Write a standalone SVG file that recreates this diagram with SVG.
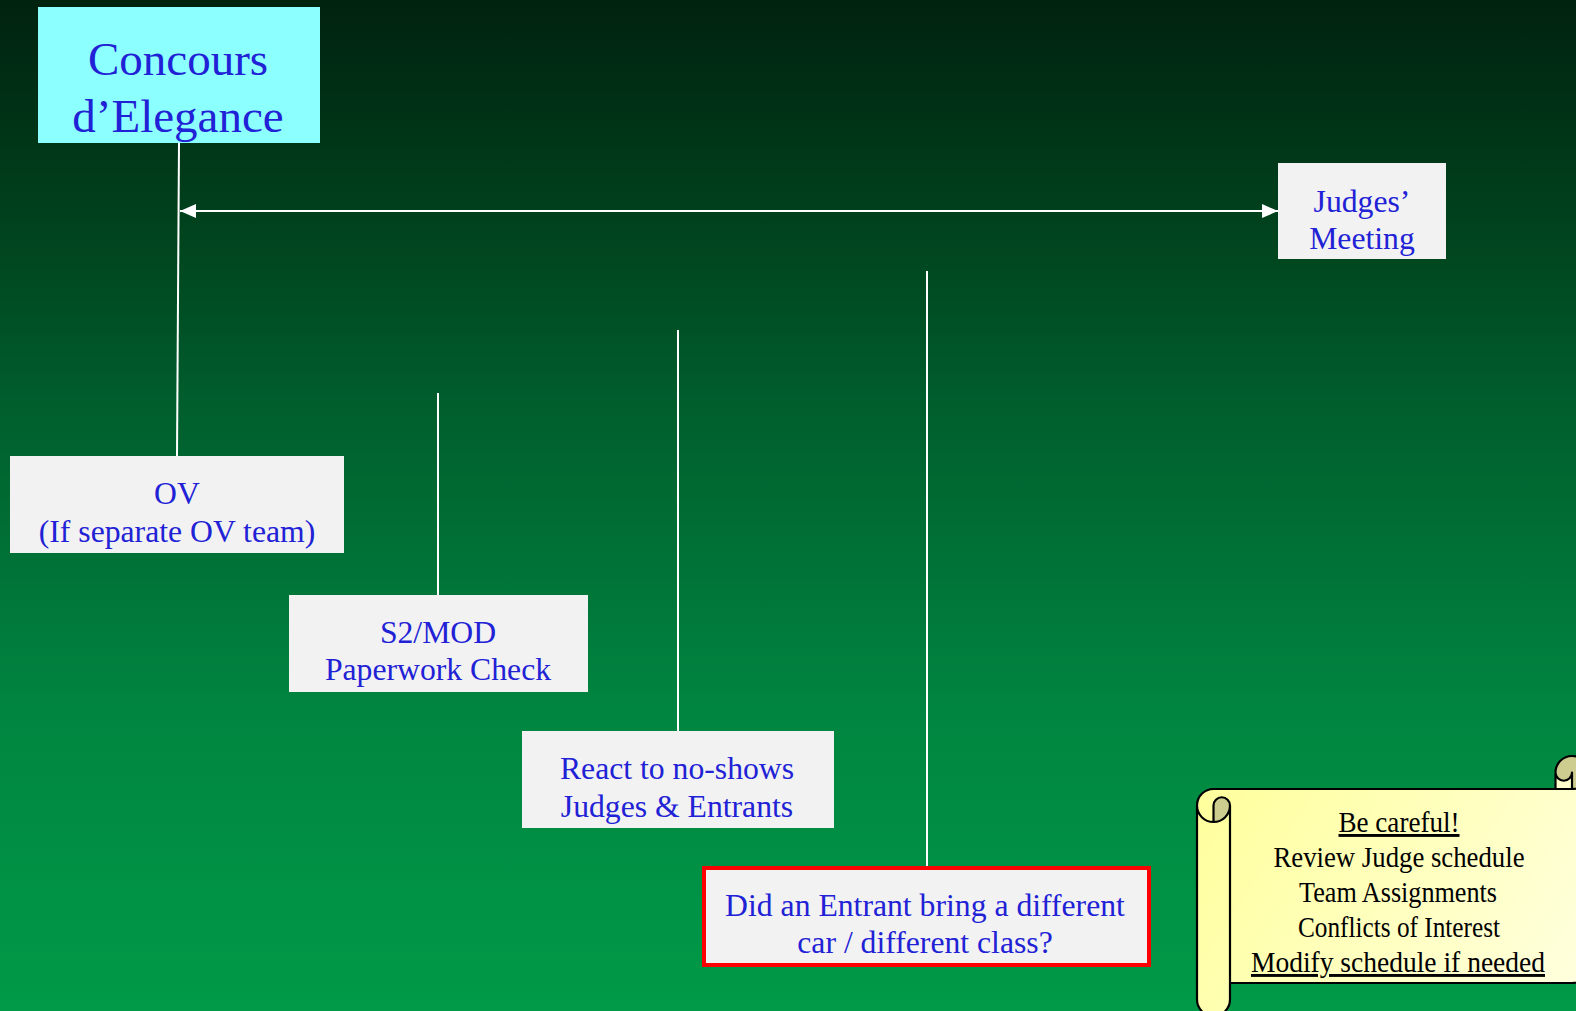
<svg xmlns="http://www.w3.org/2000/svg" width="1576" height="1011" viewBox="0 0 1576 1011">
  <defs>
    <linearGradient id="bg" x1="0" y1="0" x2="0" y2="1">
      <stop offset="0" stop-color="#00220f"/>
      <stop offset="0.25" stop-color="#00461f"/>
      <stop offset="0.4" stop-color="#005e2d"/>
      <stop offset="0.7" stop-color="#008540"/>
      <stop offset="1" stop-color="#009a48"/>
    </linearGradient>
    <linearGradient id="paper" gradientUnits="userSpaceOnUse" x1="1197" y1="756" x2="1588" y2="1016">
      <stop offset="0" stop-color="#ffff99"/>
      <stop offset="1" stop-color="#ffffe2"/>
    </linearGradient>
    <marker id="arr" viewBox="0 0 16 14" refX="16" refY="7" markerWidth="16" markerHeight="14" markerUnits="userSpaceOnUse" orient="auto-start-reverse">
      <path d="M0,0 L16,7 L0,14 Z" fill="#ffffff"/>
    </marker>
    <style>
      .box { fill: #f2f2f2; }
      .t { font-family: "Liberation Serif", "Times New Roman", serif; fill: #2121d6; text-anchor: middle; }
      .t31 { font-size: 31.7px; }
      .s { font-family: "Liberation Serif", "Times New Roman", serif; fill: #000000; text-anchor: middle; font-size: 29px; }
      .u { text-decoration: underline; }
      .line { stroke: #ffffff; stroke-width: 2; fill: none; }
    </style>
  </defs>

  <rect x="0" y="0" width="1576" height="1011" fill="url(#bg)"/>

  <g id="connectors">
    <line class="line" x1="179" y1="143" x2="177" y2="456"/>
    <line class="line" x1="180" y1="211" x2="1278" y2="211" marker-start="url(#arr)" marker-end="url(#arr)"/>
    <line class="line" x1="438" y1="393" x2="438" y2="595"/>
    <line class="line" x1="678" y1="330" x2="678" y2="731"/>
    <line class="line" x1="927" y1="271" x2="927" y2="866"/>
  </g>

  <g id="concours">
    <rect x="38" y="7" width="282" height="136" fill="#8cffff"/>
    <text class="t" x="178" y="75" font-size="47">Concours</text>
    <text class="t" x="178" y="132" font-size="47">d’Elegance</text>
  </g>

  <g id="judges-meeting">
    <rect class="box" x="1278" y="163" width="168" height="96"/>
    <text class="t t31" x="1362" y="212">Judges’</text>
    <text class="t t31" x="1362" y="249">Meeting</text>
  </g>

  <g id="ov">
    <rect class="box" x="10" y="456" width="334" height="97"/>
    <text class="t t31" x="177" y="504">OV</text>
    <text class="t t31" x="177" y="542">(If separate OV team)</text>
  </g>

  <g id="s2mod">
    <rect class="box" x="289" y="595" width="299" height="97"/>
    <text class="t t31" x="438" y="643">S2/MOD</text>
    <text class="t t31" x="438" y="680">Paperwork Check</text>
  </g>

  <g id="react">
    <rect class="box" x="522" y="731" width="312" height="97"/>
    <text class="t t31" x="677" y="779">React to no-shows</text>
    <text class="t t31" x="677" y="817">Judges &amp; Entrants</text>
  </g>

  <g id="entrant-question">
    <rect class="box" x="704" y="868" width="445" height="97" stroke="#ff0000" stroke-width="4"/>
    <text class="t t31" x="925" y="916">Did an Entrant bring a different</text>
    <text class="t t31" x="925" y="953">car / different class?</text>
  </g>

  <g id="scroll">
    <path fill="url(#paper)" d="M1588.5,772.5 A16.5,16.5 0 0 1 1572,789 L1572,772.5 A8.25,8.25 0 0 1 1555.5,772.5 L1555.5,789 L1213.5,789 A16.5,16.5 0 0 0 1197,805.5 L1197,999.5 A16.5,16.5 0 0 0 1230,999.5 L1230,983 L1572,983 A16.5,16.5 0 0 0 1588.5,966.5 Z"/>
    <path fill="#cdcd8f" d="M1213.5,822 A16.5,16.5 0 0 0 1230,805.5 A8.25,8.25 0 0 0 1213.5,805.5 Z M1572,789 A16.5,16.5 0 1 0 1555.5,772.5 A8.25,8.25 0 0 0 1572,772.5 Z"/>
    <path fill="none" stroke="#000000" stroke-width="2.2" stroke-linejoin="round" d="M1197,805.5 A16.5,16.5 0 0 1 1213.5,789 L1555.5,789 L1555.5,772.5 A16.5,16.5 0 0 1 1588.5,772.5 L1588.5,966.5 A16.5,16.5 0 0 1 1572,983 L1230,983 L1230,999.5 A16.5,16.5 0 0 1 1197,999.5 Z M1555.5,789 L1572,789 A16.5,16.5 0 0 0 1588.5,772.5 M1572,789 L1572,772.5 A8.25,8.25 0 0 1 1555.5,772.5 M1213.5,822 L1213.5,805.5 A8.25,8.25 0 0 1 1230,805.5 A16.5,16.5 0 0 1 1197,805.5 M1230,805.5 L1230,983"/>
    <text class="s u" x="1399" y="832" textLength="121" lengthAdjust="spacingAndGlyphs">Be careful!</text>
    <text class="s" x="1399" y="867" textLength="251" lengthAdjust="spacingAndGlyphs">Review Judge schedule</text>
    <text class="s" x="1398" y="902" textLength="198" lengthAdjust="spacingAndGlyphs">Team Assignments</text>
    <text class="s" x="1399" y="937" textLength="202" lengthAdjust="spacingAndGlyphs">Conflicts of Interest</text>
    <text class="s u" x="1398" y="972" textLength="294" lengthAdjust="spacingAndGlyphs">Modify schedule if needed</text>
  </g>
</svg>
